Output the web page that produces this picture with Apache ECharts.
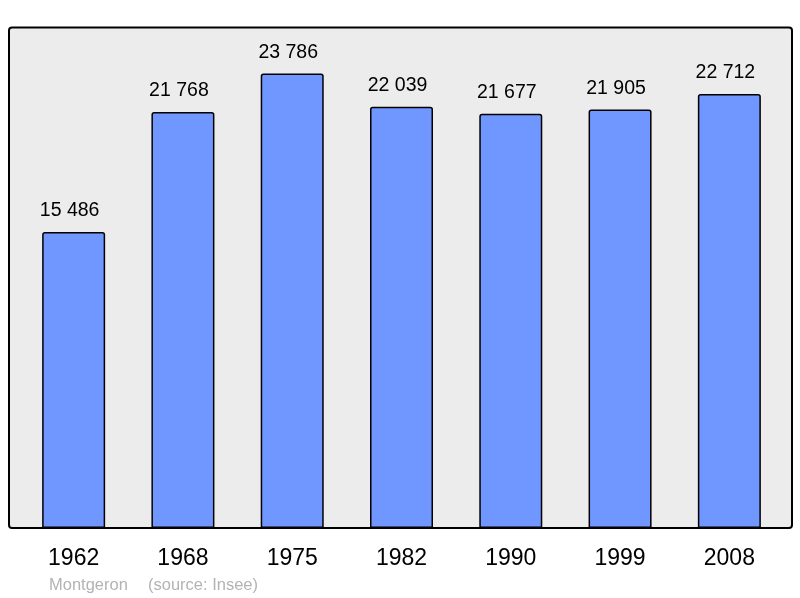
<!DOCTYPE html>
<html>
<head>
<meta charset="utf-8">
<script src="https://cdn.jsdelivr.net/npm/echarts@6/dist/echarts.min.js"></script>
<style>
html, body { margin: 0; padding: 0; background: #fff; }
#chart { width: 800px; height: 598px; }
</style>
</head>
<body>
<div id="chart"></div>
<script>
// population par recensement
const years = ['1962', '1968', '1975', '1982', '1990', '1999', '2008']
const population = [15486, 21768, 23786, 22039, 21677, 21905, 22712]
const commune = 'Montgeron'
const source = '(source: Insee)'

const chart = echarts.init(document.getElementById('chart'))

function fmt(v) {
    return String(v).replace(/\B(?=(\d{3})+(?!\d))/g, ' ')
}

const option = {
    animation: false,
    backgroundColor: '#fff',
    textStyle: { fontFamily: 'Liberation Sans' },
    graphic: [
        {
            type: 'rect',
            z: -10,
            shape: { x: 9, y: 27.5, width: 783, height: 500.5, r: 3 },
            style: { fill: '#ececec', stroke: '#000', lineWidth: 2 }
        },
        {
            type: 'text',
            left: 49,
            top: 577,
            style: { text: commune, fill: '#b3b3b3', font: '16.5px "Liberation Sans"' }
        },
        {
            type: 'text',
            left: 148,
            top: 577,
            style: { text: source, fill: '#b3b3b3', font: '16.5px "Liberation Sans"' }
        }
    ],
    grid: { left: 19, right: 16, top: 27.5, bottom: 70 },
    xAxis: {
        type: 'category',
        data: years,
        axisLine: { show: false },
        axisTick: { show: false },
        axisLabel: { color: '#000', fontSize: 23, margin: 19 }
    },
    yAxis: {
        type: 'value',
        min: 0,
        max: 26190,
        show: false,
        splitLine: { show: false }
    },
    series: [
        {
            type: 'bar',
            data: population,
            barWidth: 63,
            itemStyle: {
                color: '#7096ff',
                borderColor: '#000',
                borderWidth: 1.5,
                borderRadius: [2, 2, 0, 0]
            },
            label: {
                show: true,
                position: 'top',
                distance: 11,
                offset: [-4, 0],
                color: '#000',
                fontSize: 19.5,
                formatter: (p) => fmt(p.value)
            }
        }
    ]
}

chart.setOption(option)
</script>
</body>
</html>
